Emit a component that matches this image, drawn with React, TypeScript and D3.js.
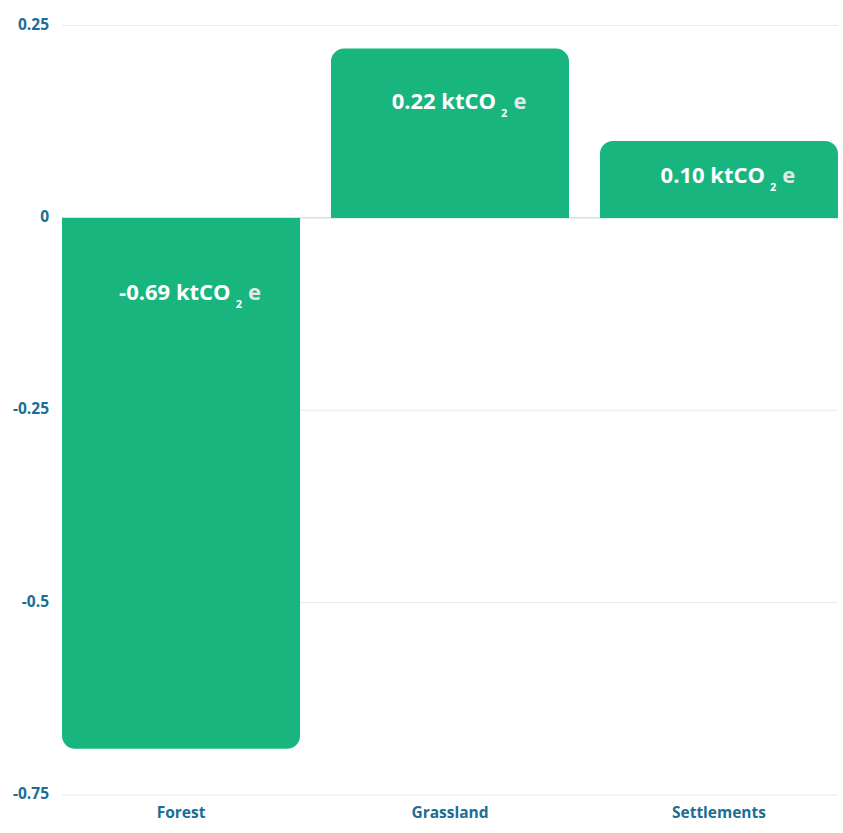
import React from "react";
import * as d3 from "d3";

const categories = ["Forest", "Grassland", "Settlements"];
const values = [-0.69, 0.22, 0.1];
const valueLabels = ["-0.69", "0.22", "0.10"];
const yTicks = [0.25, 0, -0.25, -0.5, -0.75];
const yTickLabels = ["0.25", "0", "-0.25", "-0.5", "-0.75"];
const unitMain = "ktCO";
const unitSub = "2";
const unitSuffix = "e";

// layout constants (not data)
const W = 843;
const H = 833;
const labelOffsets = [82, 60, 42];

const FONT = "'Open Sans', sans-serif";
const GREEN = "#19b57f";
const AXIS_TEXT = "#1b6e93";

function barPath(x0: number, x1: number, yBase: number, yEnd: number, r: number) {
  const p = d3.path();
  const dir = yEnd < yBase ? -1 : 1;
  const rr = Math.min(r, Math.abs(yEnd - yBase), (x1 - x0) / 2);
  p.moveTo(x0, yBase);
  p.lineTo(x0, yEnd - dir * rr);
  p.arcTo(x0, yEnd, x0 + rr, yEnd, rr);
  p.lineTo(x1 - rr, yEnd);
  p.arcTo(x1, yEnd, x1, yEnd - dir * rr, rr);
  p.lineTo(x1, yBase);
  p.closePath();
  return p.toString();
}

export default function App() {
  const x = d3
    .scaleBand<string>()
    .domain(categories)
    .range([62, 838])
    .paddingInner(0.115)
    .paddingOuter(0);
  const y = d3.scaleLinear().domain([-0.75, 0.25]).range([795, 25.5]);
  const [gx0, gx1] = x.range();

  return (
    <svg
      width={W}
      height={H}
      style={{ position: "absolute", left: 0, top: 0, display: "block", background: "#fff" }}
    >
      {yTicks.map((t, i) => (
        <g key={"g" + i}>
          <line
            x1={gx0}
            x2={gx1}
            y1={y(t)}
            y2={y(t)}
            stroke={t === 0 ? "#b8d6e4" : "#e1ecf3"}
            strokeWidth={1}
          />
          <text
            x={49}
            y={y(t)}
            textAnchor="end"
            dominantBaseline="middle"
            fontFamily={FONT}
            fontWeight={700}
            fontSize={15.5}
            fill={AXIS_TEXT}
          >
            {yTickLabels[i]}
          </text>
        </g>
      ))}
      {categories.map((c, i) => {
        const x0 = x(c)!;
        const x1 = x0 + x.bandwidth();
        const v = values[i];
        const base = y(0);
        const end = y(v);
        const cx = x0 + x.bandwidth() / 2;
        const labelY = (v >= 0 ? end : base) + labelOffsets[i];
        return (
          <g key={c}>
            <path d={barPath(x0, x1, base, end, 13)} fill={GREEN} />
            <text
              x={cx + 9}
              y={labelY}
              textAnchor="middle"
              fontFamily={FONT}
              fontWeight={700}
              fontSize={22}
              fill="#ffffff"
            >
              <tspan>{valueLabels[i] + " " + unitMain}</tspan>
              <tspan dx={5} dy={8} fontSize={11}>
                {unitSub}
              </tspan>
              <tspan dx={6} dy={-8} fill="#e3e9e6">
                {unitSuffix}
              </tspan>
            </text>
            <text
              x={cx}
              y={818}
              textAnchor="middle"
              fontFamily={FONT}
              fontWeight={700}
              fontSize={15.5}
              fill={AXIS_TEXT}
            >
              {c}
            </text>
          </g>
        );
      })}
    </svg>
  );
}
